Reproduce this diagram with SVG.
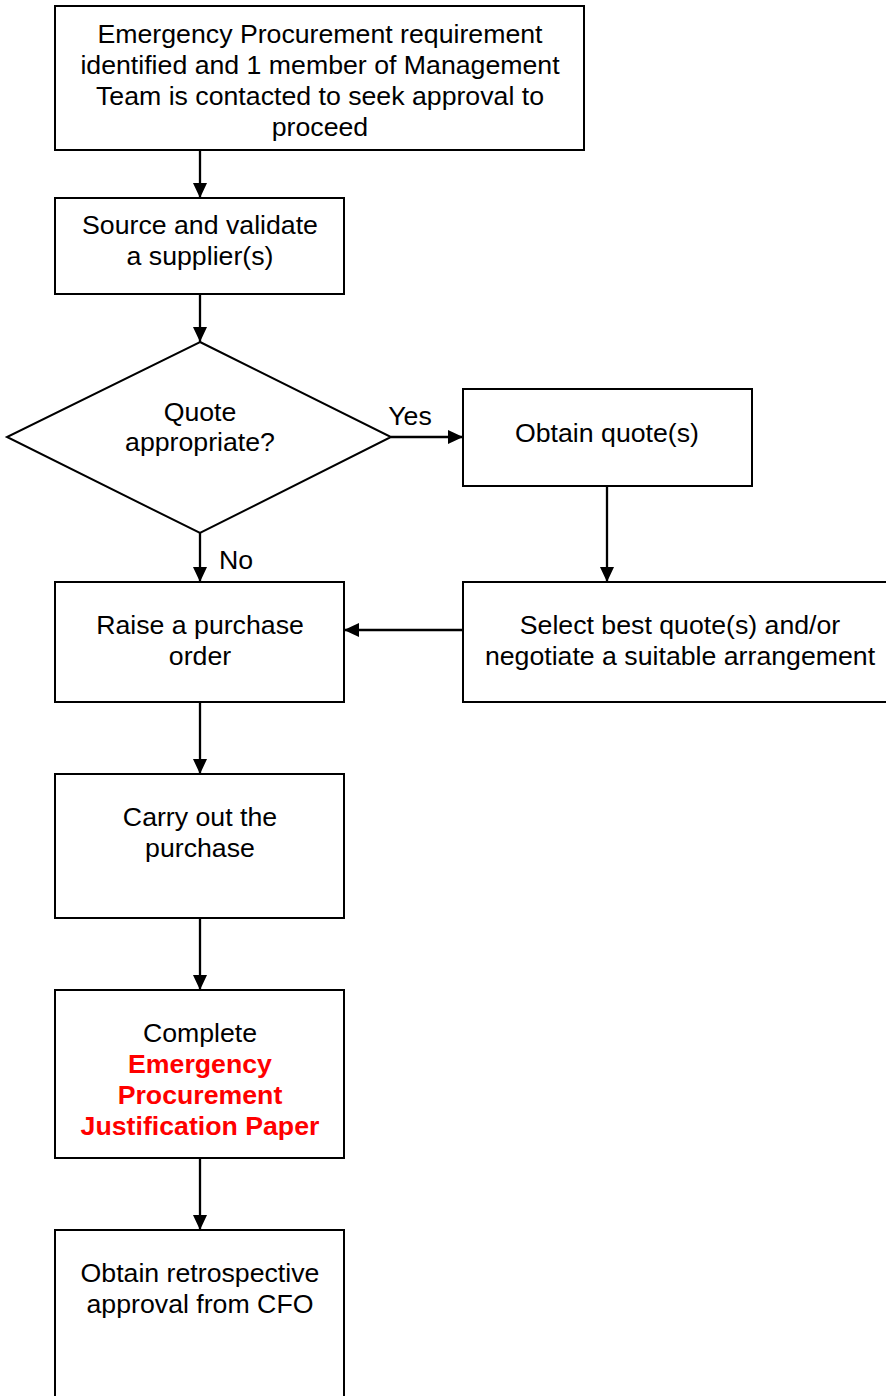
<svg xmlns="http://www.w3.org/2000/svg" width="886" height="1396" viewBox="0 0 886 1396">
<style>
.box{fill:#fff;stroke:#000;stroke-width:2}
.t{font-family:"Liberation Sans",Arial,sans-serif;font-size:26.7px;fill:#000;text-anchor:middle}
.r{font-weight:bold;fill:#ff0000}
.c{stroke:#000;stroke-width:2.3;fill:none}
</style>
<defs>
<marker id="ah" viewBox="0 0 15 14" refX="15" refY="7" markerWidth="15" markerHeight="14" markerUnits="userSpaceOnUse" orient="auto">
<path d="M0,0 L15,7 L0,14 Z" fill="#000"/>
</marker>
</defs>
<rect width="886" height="1396" fill="#fff"/>
<g id="connectors">
<line class="c" x1="200" y1="150" x2="200" y2="198" marker-end="url(#ah)"/>
<line class="c" x1="200" y1="294" x2="200" y2="342" marker-end="url(#ah)"/>
<line class="c" x1="391" y1="437" x2="463" y2="437" marker-end="url(#ah)"/>
<line class="c" x1="607" y1="486" x2="607" y2="582" marker-end="url(#ah)"/>
<line class="c" x1="200" y1="533" x2="200" y2="582" marker-end="url(#ah)"/>
<line class="c" x1="463" y1="630" x2="344" y2="630" marker-end="url(#ah)"/>
<line class="c" x1="200" y1="702" x2="200" y2="774" marker-end="url(#ah)"/>
<line class="c" x1="200" y1="918" x2="200" y2="990" marker-end="url(#ah)"/>
<line class="c" x1="200" y1="1158" x2="200" y2="1230" marker-end="url(#ah)"/>
<text class="t" x="410" y="425">Yes</text>
<text class="t" x="236" y="569">No</text>
</g>
<g id="n1">
<rect class="box" x="55" y="6" width="529" height="144"/>
<text class="t" x="320" y="43">Emergency Procurement requirement</text>
<text class="t" x="320" y="74">identified and 1 member of Management</text>
<text class="t" x="320" y="105">Team is contacted to seek approval to</text>
<text class="t" x="320" y="136">proceed</text>
</g>
<g id="n2">
<rect class="box" x="55" y="198" width="289" height="96"/>
<text class="t" x="200" y="234">Source and validate</text>
<text class="t" x="200" y="265">a supplier(s)</text>
</g>
<g id="n3">
<polygon class="box" points="200,342 391,437 200,533 7,437"/>
<text class="t" x="200" y="421">Quote</text>
<text class="t" x="200" y="451">appropriate?</text>
</g>
<g id="n4">
<rect class="box" x="463" y="389" width="289" height="97"/>
<text class="t" x="607" y="442">Obtain quote(s)</text>
</g>
<g id="n5">
<rect class="box" x="463" y="582" width="434" height="120"/>
<text class="t" x="680" y="634">Select best quote(s) and/or</text>
<text class="t" x="680" y="665">negotiate a suitable arrangement</text>
</g>
<g id="n6">
<rect class="box" x="55" y="582" width="289" height="120"/>
<text class="t" x="200" y="634">Raise a purchase</text>
<text class="t" x="200" y="665">order</text>
</g>
<g id="n7">
<rect class="box" x="55" y="774" width="289" height="144"/>
<text class="t" x="200" y="826">Carry out the</text>
<text class="t" x="200" y="857">purchase</text>
</g>
<g id="n8">
<rect class="box" x="55" y="990" width="289" height="168"/>
<text class="t" x="200" y="1042">Complete</text>
<text class="t r" x="200" y="1073">Emergency</text>
<text class="t r" x="200" y="1104">Procurement</text>
<text class="t r" x="200" y="1135">Justification Paper</text>
</g>
<g id="n9">
<rect class="box" x="55" y="1230" width="289" height="180"/>
<text class="t" x="200" y="1282">Obtain retrospective</text>
<text class="t" x="200" y="1313">approval from CFO</text>
</g>
</svg>
